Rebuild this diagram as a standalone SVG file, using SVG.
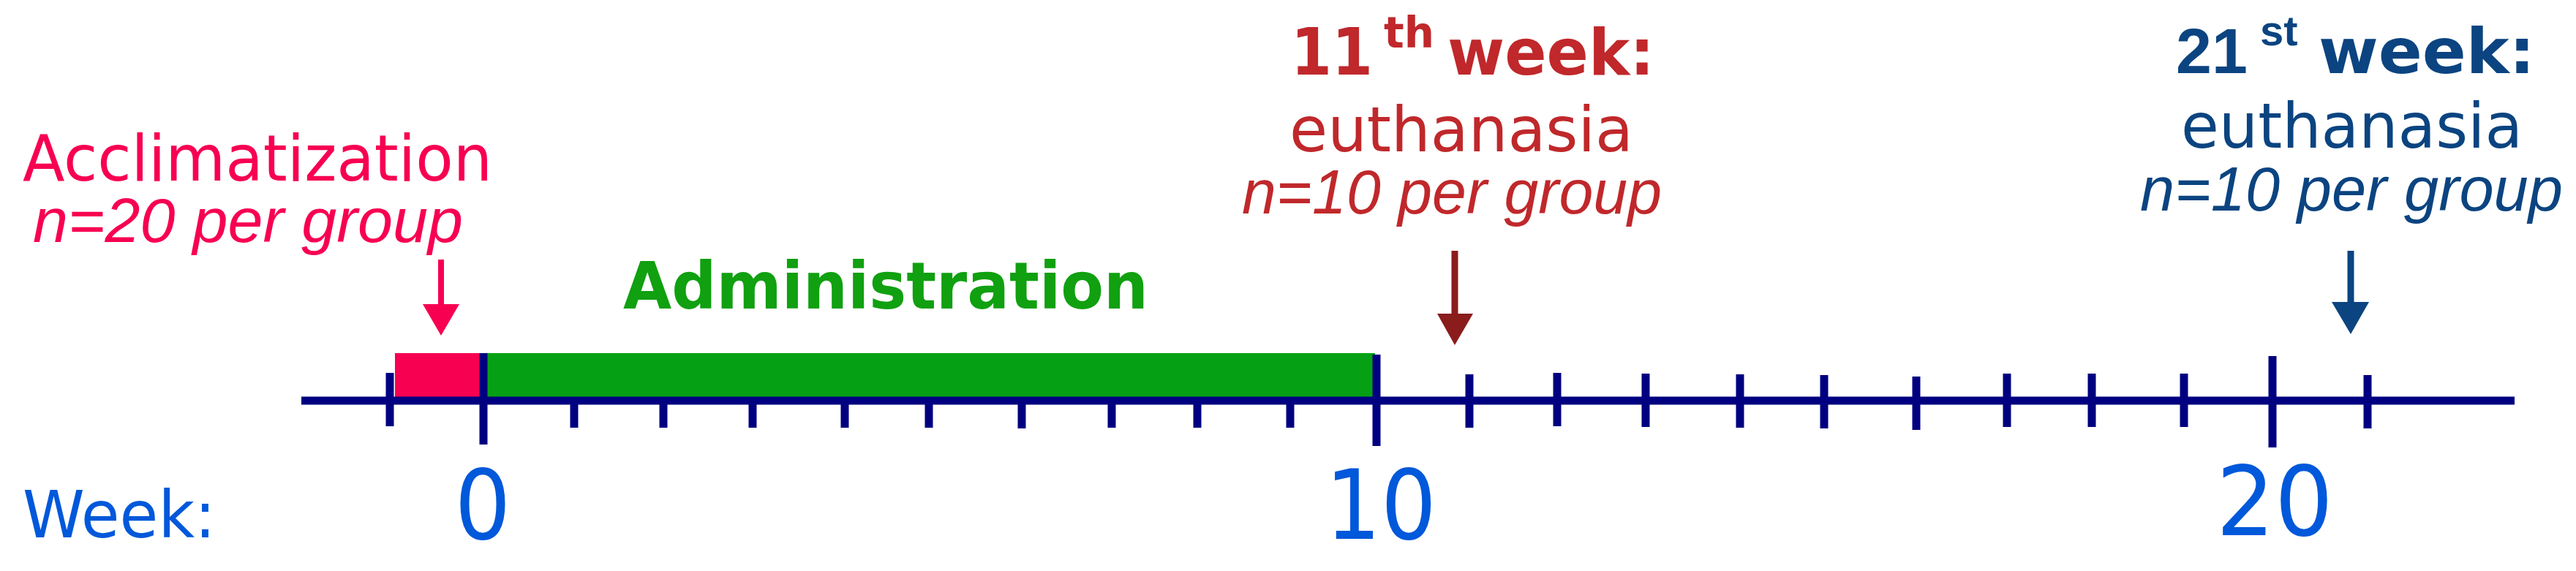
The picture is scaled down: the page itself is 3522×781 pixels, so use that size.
<svg xmlns="http://www.w3.org/2000/svg" width="3522" height="781" viewBox="0 0 3522 781">
<style>
.sans{font-family:"DejaVu Sans","Verdana",sans-serif}
.arial{font-family:"Liberation Sans",Arial,sans-serif}
.b{font-weight:bold}
.it{font-style:italic}
.pink{fill:#F70052}
.red{fill:#C0282B}
.blue{fill:#0B4480}
.wk{fill:#0058DA}
.tick{stroke:#000080;stroke-width:11}
</style>
<rect width="3522" height="781" fill="#ffffff"/>
<g id="timeline">
  <g id="minor-ticks" class="tick">
    <line x1="533" y1="510" x2="533" y2="583"/>
    <line x1="785" y1="512" x2="785" y2="585"/>
    <line x1="907" y1="512" x2="907" y2="585"/>
    <line x1="1029" y1="512" x2="1029" y2="585"/>
    <line x1="1155" y1="512" x2="1155" y2="585"/>
    <line x1="1270" y1="512" x2="1270" y2="585"/>
    <line x1="1397" y1="512" x2="1397" y2="586"/>
    <line x1="1520" y1="512" x2="1520" y2="585"/>
    <line x1="1637" y1="512" x2="1637" y2="585"/>
    <line x1="1764" y1="512" x2="1764" y2="585"/>
    <line x1="2009" y1="512" x2="2009" y2="585"/>
    <line x1="2129" y1="510" x2="2129" y2="583"/>
    <line x1="2250" y1="511" x2="2250" y2="584"/>
    <line x1="2379" y1="512" x2="2379" y2="585"/>
    <line x1="2494" y1="513" x2="2494" y2="586"/>
    <line x1="2620" y1="515" x2="2620" y2="588"/>
    <line x1="2744" y1="511" x2="2744" y2="584"/>
    <line x1="2860" y1="511" x2="2860" y2="584"/>
    <line x1="2986" y1="511" x2="2986" y2="584"/>
    <line x1="3237" y1="513" x2="3237" y2="586"/>
  </g>
  <rect id="acclimatization-bar" x="540" y="483" width="118" height="61" fill="#F70052"/>
  <rect id="administration-bar" x="664" y="483" width="1216" height="61" fill="#05A014"/>
  <line id="axis" x1="412" y1="548" x2="3438" y2="548" stroke="#000080" stroke-width="11"/>
  <g id="major-ticks" class="tick">
    <line x1="661" y1="483" x2="661" y2="608"/>
    <line x1="1882" y1="485" x2="1882" y2="610"/>
    <line x1="3107" y1="487" x2="3107" y2="612"/>
  </g>
</g>
<g id="week-labels" class="sans wk">
  <text x="31" y="735" font-size="89" textLength="264" lengthAdjust="spacingAndGlyphs">Week:</text>
  <text x="660" y="737" font-size="132" text-anchor="middle" textLength="77" lengthAdjust="spacingAndGlyphs">0</text>
  <text x="1888" y="737" font-size="132" text-anchor="middle" textLength="152" lengthAdjust="spacingAndGlyphs">10</text>
  <text x="3110" y="732" font-size="132" text-anchor="middle" textLength="160" lengthAdjust="spacingAndGlyphs">20</text>
</g>
<g id="acclimatization-label" class="pink">
  <text class="sans" x="31" y="247" font-size="88" textLength="642" lengthAdjust="spacingAndGlyphs">Acclimatization</text>
  <text class="arial it" x="45" y="331" font-size="86" textLength="588" lengthAdjust="spacingAndGlyphs">n=20 per group</text>
</g>
<g id="administration-label">
  <text class="sans b" x="852" y="422" font-size="89" fill="#10A010" textLength="718" lengthAdjust="spacingAndGlyphs">Administration</text>
</g>
<g id="week11-label" class="red">
  <text class="sans b"><tspan x="1765" y="102" font-size="89" textLength="112" lengthAdjust="spacingAndGlyphs">11</tspan><tspan x="1892" y="65" font-size="58">th</tspan><tspan x="1979" y="102" font-size="88" textLength="283" lengthAdjust="spacingAndGlyphs">week:</tspan></text>
  <text class="sans" x="1763" y="207" font-size="86" textLength="470" lengthAdjust="spacingAndGlyphs">euthanasia</text>
  <text class="arial it" x="1698" y="292" font-size="86" textLength="574" lengthAdjust="spacingAndGlyphs">n=10 per group</text>
</g>
<g id="week21-label" class="blue">
  <text><tspan class="arial b" x="2975" y="100" font-size="88">21</tspan><tspan class="arial b" x="3090" y="62" font-size="58">st</tspan><tspan class="sans b" x="3170" y="100" font-size="86" textLength="296" lengthAdjust="spacingAndGlyphs">week:</tspan></text>
  <text class="sans" x="2982" y="202" font-size="86" textLength="467" lengthAdjust="spacingAndGlyphs">euthanasia</text>
  <text class="arial it" x="2926" y="288" font-size="86" textLength="578" lengthAdjust="spacingAndGlyphs">n=10 per group</text>
</g>
<g id="connectors">
  <line x1="603" y1="355" x2="603" y2="420" stroke="#F70052" stroke-width="8"/>
  <polygon points="578,416 628,416 603,459" fill="#F70052"/>
  <line x1="1989" y1="343" x2="1989" y2="432" stroke="#8B1C1C" stroke-width="9"/>
  <polygon points="1965,429 2014,429 1989,472" fill="#8B1C1C"/>
  <line x1="3214" y1="343" x2="3214" y2="417" stroke="#0B4480" stroke-width="9"/>
  <polygon points="3188,413 3239,413 3214,457" fill="#0B4480"/>
</g>
</svg>
